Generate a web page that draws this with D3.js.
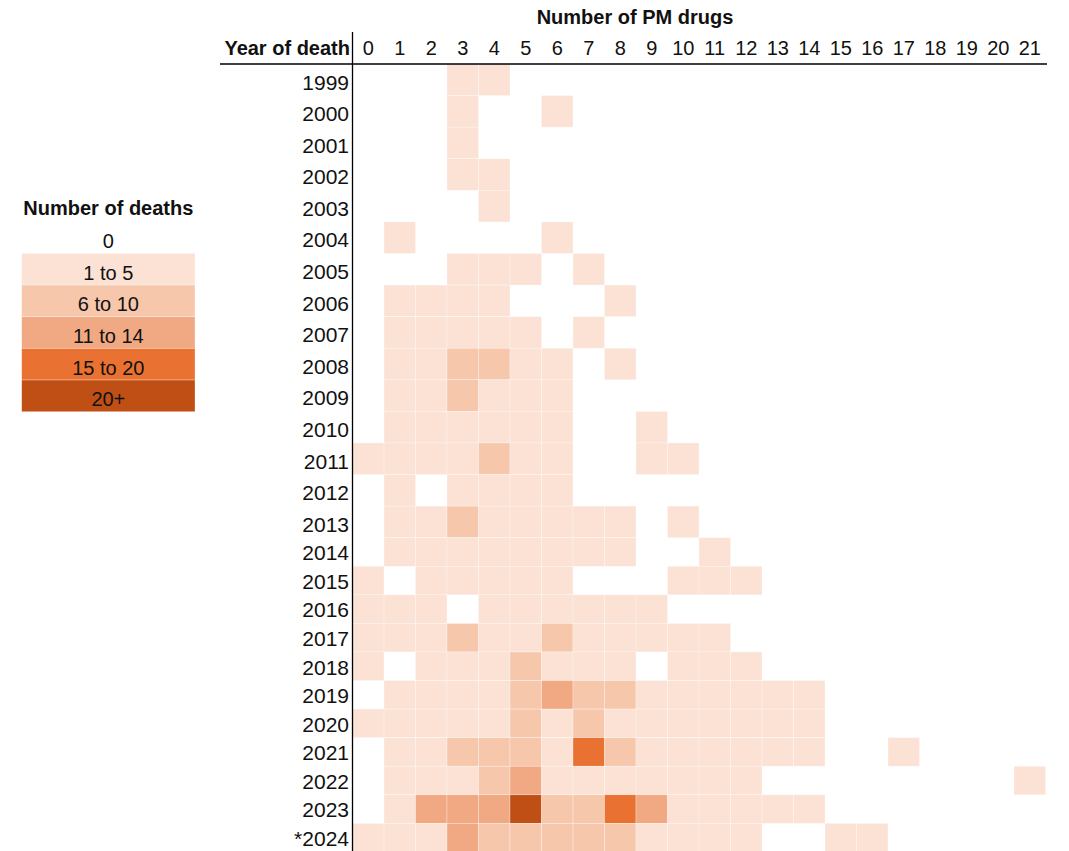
<!DOCTYPE html>
<html>
<head>
<meta charset="utf-8">
<script src="https://cdn.jsdelivr.net/npm/d3@7"></script>
<style>
  html, body { margin: 0; padding: 0; background: #fff; }
  svg { display: block; }
  .narrow { font-family: "Liberation Sans Narrow", "Arial Narrow", "Liberation Sans", Arial, sans-serif; }
  .reg { font-family: "Liberation Sans", Arial, sans-serif; }
</style>
</head>
<body>
<svg id="chart" width="1069" height="851"></svg>
<script>
// ---- Data ----
const drugCounts = [0,1,2,3,4,5,6,7,8,9,10,11,12,13,14,15,16,17,18,19,20,21];
const years = ["1999","2000","2001","2002","2003","2004","2005","2006","2007","2008","2009","2010","2011","2012","2013","2014","2015","2016","2017","2018","2019","2020","2021","2022","2023","*2024"];
const bandLabels = ["0","1 to 5","6 to 10","11 to 14","15 to 20","20+"];
const bandColors = ["#FFFFFF","#FBE2D5","#F7C7AC","#F1A983","#E97132","#C04F15"];
// band index of number of deaths (0 = none, 1 = 1 to 5, 2 = 6 to 10, 3 = 11 to 14, 4 = 15 to 20, 5 = 20+)
// one row per year, one value per number of PM drugs (0..21)
const deathBands = [
  [0,0,0,1,1,0,0,0,0,0,0,0,0,0,0,0,0,0,0,0,0,0], // 1999
  [0,0,0,1,0,0,1,0,0,0,0,0,0,0,0,0,0,0,0,0,0,0], // 2000
  [0,0,0,1,0,0,0,0,0,0,0,0,0,0,0,0,0,0,0,0,0,0], // 2001
  [0,0,0,1,1,0,0,0,0,0,0,0,0,0,0,0,0,0,0,0,0,0], // 2002
  [0,0,0,0,1,0,0,0,0,0,0,0,0,0,0,0,0,0,0,0,0,0], // 2003
  [0,1,0,0,0,0,1,0,0,0,0,0,0,0,0,0,0,0,0,0,0,0], // 2004
  [0,0,0,1,1,1,0,1,0,0,0,0,0,0,0,0,0,0,0,0,0,0], // 2005
  [0,1,1,1,1,0,0,0,1,0,0,0,0,0,0,0,0,0,0,0,0,0], // 2006
  [0,1,1,1,1,1,0,1,0,0,0,0,0,0,0,0,0,0,0,0,0,0], // 2007
  [0,1,1,2,2,1,1,0,1,0,0,0,0,0,0,0,0,0,0,0,0,0], // 2008
  [0,1,1,2,1,1,1,0,0,0,0,0,0,0,0,0,0,0,0,0,0,0], // 2009
  [0,1,1,1,1,1,1,0,0,1,0,0,0,0,0,0,0,0,0,0,0,0], // 2010
  [1,1,1,1,2,1,1,0,0,1,1,0,0,0,0,0,0,0,0,0,0,0], // 2011
  [0,1,0,1,1,1,1,0,0,0,0,0,0,0,0,0,0,0,0,0,0,0], // 2012
  [0,1,1,2,1,1,1,1,1,0,1,0,0,0,0,0,0,0,0,0,0,0], // 2013
  [0,1,1,1,1,1,1,1,1,0,0,1,0,0,0,0,0,0,0,0,0,0], // 2014
  [1,0,1,1,1,1,1,0,0,0,1,1,1,0,0,0,0,0,0,0,0,0], // 2015
  [1,1,1,0,1,1,1,1,1,1,0,0,0,0,0,0,0,0,0,0,0,0], // 2016
  [1,1,1,2,1,1,2,1,1,1,1,1,0,0,0,0,0,0,0,0,0,0], // 2017
  [1,0,1,1,1,2,1,1,1,0,1,1,1,0,0,0,0,0,0,0,0,0], // 2018
  [0,1,1,1,1,2,3,2,2,1,1,1,1,1,1,0,0,0,0,0,0,0], // 2019
  [1,1,1,1,1,2,1,2,1,1,1,1,1,1,1,0,0,0,0,0,0,0], // 2020
  [0,1,1,2,2,2,1,4,2,1,1,1,1,1,1,0,0,1,0,0,0,0], // 2021
  [0,1,1,1,2,3,1,1,1,1,1,1,1,0,0,0,0,0,0,0,0,1], // 2022
  [0,1,3,3,3,5,2,2,4,3,1,1,1,1,1,0,0,0,0,0,0,0], // 2023
  [1,1,1,3,2,2,2,2,2,1,1,1,1,0,0,1,1,0,0,0,0,0]  // *2024
];

const svg = d3.select("#chart");

// ---- Scales ----
const x = d3.scaleBand().domain(drugCounts).range([352.5, 1045.5]);
// rows 1999-2013 are taller than rows 2014 onwards in the source sheet
const yRow = d3.scaleLinear().domain([0, 15, 26]).range([64, 537.7, 851.9]);
const color = d3.scaleOrdinal().domain(d3.range(bandLabels.length)).range(bandColors);

// ---- Cells ----
const cells = [];
deathBands.forEach((row, i) => row.forEach((b, j) => { if (b > 0) cells.push({ i, drugs: drugCounts[j], b }); }));

svg.append("g").selectAll("rect").data(cells).join("rect")
  .attr("x", d => x(d.drugs))
  .attr("y", d => yRow(d.i))
  .attr("width", x.bandwidth())
  .attr("height", d => yRow(d.i + 1) - yRow(d.i))
  .attr("fill", d => color(d.b))
  .attr("stroke", "#fff")
  .attr("stroke-opacity", 0.5)
  .attr("stroke-width", 0.6);

// ---- Year labels (bottom-aligned in their rows, like spreadsheet cells) ----
svg.append("g").attr("class", "reg").selectAll("text").data(years).join("text")
  .attr("x", 349)
  .attr("y", (d, i) => yRow(i + 1) - 6)
  .attr("text-anchor", "end")
  .attr("font-size", 21)
  .attr("fill", "#111")
  .text(d => d);

// ---- Column labels ----
svg.append("g").attr("class", "narrow").selectAll("text").data(drugCounts).join("text")
  .attr("x", d => x(d) + x.bandwidth() / 2)
  .attr("y", 55)
  .attr("text-anchor", "middle")
  .attr("font-size", 20)
  .attr("fill", "#111")
  .text(d => d);

// ---- Headers ----
svg.append("text").attr("class", "narrow")
  .attr("x", 635).attr("y", 24)
  .attr("text-anchor", "middle")
  .attr("font-size", 20).attr("font-weight", "bold")
  .attr("fill", "#111")
  .text("Number of PM drugs");

svg.append("text").attr("class", "narrow")
  .attr("x", 350).attr("y", 55)
  .attr("text-anchor", "end")
  .attr("font-size", 20).attr("font-weight", "bold")
  .attr("fill", "#111")
  .text("Year of death");

// ---- Axis lines ----
svg.append("line").attr("x1", 220).attr("x2", 1047).attr("y1", 64).attr("y2", 64)
  .attr("stroke", "#000").attr("stroke-width", 1.3);
svg.append("line").attr("x1", 352.5).attr("x2", 352.5).attr("y1", 32).attr("y2", 851)
  .attr("stroke", "#000").attr("stroke-width", 1.3);

// ---- Legend ----
const ly = d3.scaleBand().domain(bandLabels).range([221.7, 411.7]);
const lx0 = 21.7, lx1 = 195;
const legend = svg.append("g");
legend.append("text").attr("class", "narrow")
  .attr("x", (lx0 + lx1) / 2).attr("y", 215)
  .attr("text-anchor", "middle")
  .attr("font-size", 20).attr("font-weight", "bold")
  .attr("fill", "#111")
  .text("Number of deaths");
legend.selectAll("rect").data(bandLabels.slice(1)).join("rect")
  .attr("x", lx0).attr("width", lx1 - lx0)
  .attr("y", d => ly(d)).attr("height", ly.bandwidth())
  .attr("fill", (d, i) => bandColors[i + 1])
  .attr("stroke", "#fff").attr("stroke-opacity", 0.5).attr("stroke-width", 0.6);
legend.selectAll("text.item").data(bandLabels).join("text")
  .attr("class", "item reg")
  .attr("x", (lx0 + lx1) / 2)
  .attr("y", d => ly(d) + ly.bandwidth() - 5.5)
  .attr("text-anchor", "middle")
  .attr("font-size", 20)
  .attr("fill", "#111")
  .text(d => d);
</script>
</body>
</html>
